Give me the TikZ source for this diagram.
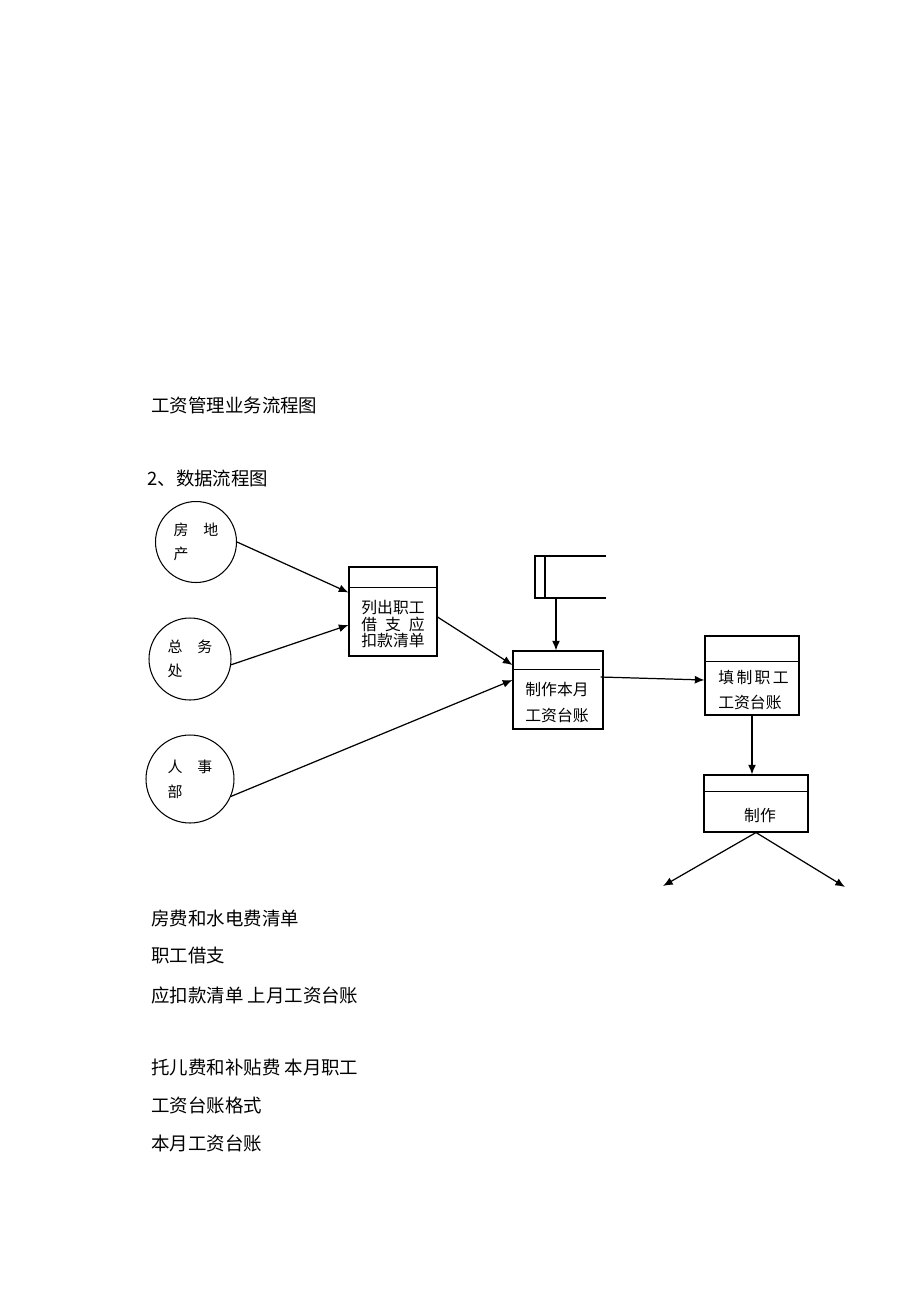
\documentclass[tikz,border=0pt]{standalone}
\usepackage{fontspec}
\setmainfont{Noto Sans CJK SC}
\usepackage{tikz}
\usetikzlibrary{shapes.geometric, arrows.meta}

\begin{document}
\begin{tikzpicture}[x=0.02cm, y=-0.02cm]
\tikzstyle{source} = [circle, draw=black, line width=0.6pt, align=left, inner sep=0pt, font=\fontsize{8.5}{14}\selectfont]
\tikzstyle{process} = [rectangle, draw=black, line width=0.6pt, inner sep=0pt]
\tikzstyle{boxtext} = [inner sep=0pt, font=\fontsize{9}{14.8}\selectfont]
\tikzstyle{plain} = [anchor=west, inner sep=0pt, font=\fontsize{10.5}{12}\selectfont]
\tikzstyle{arrow} = [line width=0.7pt,-{Latex[length=5.5pt,width=4.5pt]}]

\useasboundingbox (0,0) rectangle (920,1302);

\node (title) [plain] at (151,405) {工资管理业务流程图};
\node (dfd) [plain] at (147,478) {2、数据流程图};

\node (estate) [source, minimum size=1.62cm] at (196,542) {房\hspace{1em}地\\产};
\node (office) [source, minimum size=1.64cm] at (190,659) {总\hspace{1em}务\\处};
\node (personnel) [source, minimum size=1.76cm] at (190,779) {人\hspace{1em}事\\部};

\node (list) [process, minimum width=1.76cm, minimum height=1.78cm] at (393,611.5) {};
\draw (list.north west) ++(0,21) -- ++(88,0);
\node (listtext) [boxtext, font=\fontsize{9}{8}\selectfont, align=center] at (393,624) {列出职工\\借\hspace{0.5em}支\hspace{0.5em}应\\扣款清单};

\draw [line width=0.6pt] (606,556) -- (535,556) -- (535,598) -- (606,598);
\draw [line width=0.6pt] (545,556) -- (545,598);
\coordinate (ledger) at (556,598);

\node (make) [process, minimum width=1.8cm, minimum height=1.56cm] at (558,690) {};
\draw (make.north west) ++(0,19) -- ++(88,0);
\node (maketext) [boxtext, align=center] at (557,703) {制作本月\\工资台账};

\node (fillin) [process, minimum width=1.88cm, minimum height=1.58cm] at (752,675.5) {};
\draw (fillin.north west) ++(0,26) -- ++(94,0);
\node (fillintext) [boxtext, font=\fontsize{9}{13.7}\selectfont, align=left, anchor=west] at (718,690) {填\hspace{0.15em}制\hspace{0.15em}职\hspace{0.15em}工\\工资台账};

\node (produce) [process, minimum width=2.08cm, minimum height=1.14cm] at (756,803.5) {};
\draw (produce.north west) ++(0,17) -- ++(104,0);
\node (producetext) [boxtext] at (760,816) {制作};

\coordinate (out1) at (663,886);
\coordinate (out2) at (845,887);

\draw [arrow] (estate.east) -- ([yshift=0.38cm]list.west);
\draw [arrow] (office.-8) -- ([yshift=-0.27cm]list.west);
\draw [arrow] (personnel.-23) -- ([yshift=0.2cm]make.west);
\draw [arrow] ([yshift=-0.11cm]list.east) -- ([yshift=0.5cm]make.west);
\draw [arrow] (ledger) -- (ledger |- make.north);
\draw [arrow] ([xshift=-0.06cm,yshift=0.26cm]make.east) -- ([yshift=-0.09cm]fillin.west);
\draw [arrow] (fillin.south) -- (fillin.south |- produce.north);
\draw [arrow] (produce.south) -- (out1);
\draw [arrow] (produce.south) -- (out2);

\node (t1) [plain] at (151,918) {房费和水电费清单};
\node (t2) [plain] at (151,956) {职工借支};
\node (t3) [plain] at (151,995) {应扣款清单 上月工资台账};
\node (t4) [plain] at (151,1067) {托儿费和补贴费 本月职工};
\node (t5) [plain] at (151,1105) {工资台账格式};
\node (t6) [plain] at (151,1143) {本月工资台账};
\end{tikzpicture}
\end{document}
